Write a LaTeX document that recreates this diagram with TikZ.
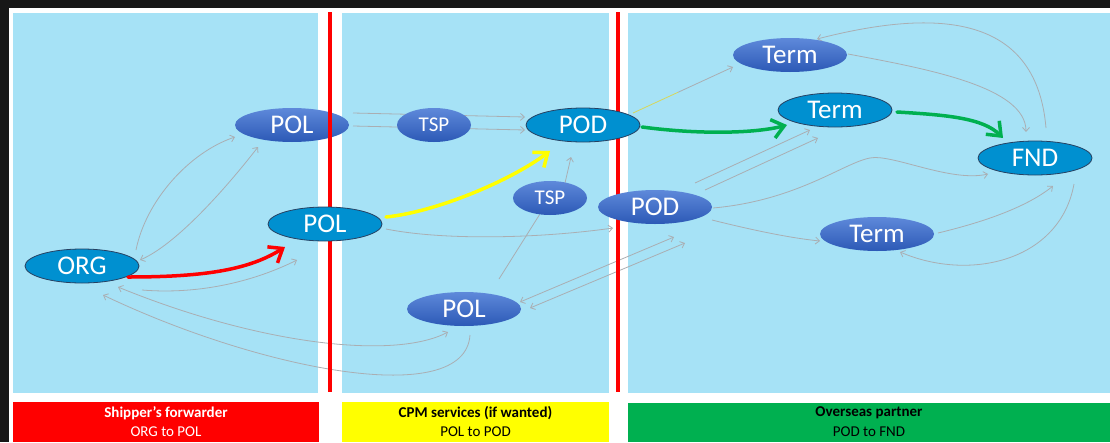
\documentclass[tikz,border=0pt]{standalone}
\usepackage{fontspec}
\setmainfont{Carlito}
\usetikzlibrary{shapes.geometric,arrows.meta,calc}
\definecolor{panel}{RGB}{166,226,246}
\definecolor{darkedge}{RGB}{23,23,23}
\definecolor{cyanfill}{RGB}{0,144,208}
\definecolor{cyanedge}{RGB}{38,64,97}
\definecolor{gtop}{RGB}{94,137,218}
\definecolor{gbot}{RGB}{44,89,182}
\definecolor{conn}{RGB}{170,174,178}
\definecolor{yconn}{RGB}{215,215,90}
\definecolor{barred}{RGB}{255,0,0}
\definecolor{baryellow}{RGB}{255,255,0}
\definecolor{bargreen}{RGB}{0,176,80}
\pgfdeclarelayer{back}
\pgfdeclarelayer{lines}
\pgfdeclarelayer{mid}
\pgfdeclarelayer{redl}
\pgfsetlayers{back,lines,mid,redl,main}
\begin{document}
\begin{tikzpicture}[x=1pt,y=-1pt,
  big/.style={ellipse, minimum width=114pt, minimum height=34pt, inner sep=0pt, text=white, font=\fontsize{27}{27}\selectfont},
  small/.style={ellipse, minimum width=74pt, minimum height=34pt, inner sep=0pt, text=white, font=\fontsize{21}{21}\selectfont},
  grad/.style={top color=gtop, bottom color=gbot},
  flat/.style={fill=cyanfill, draw=cyanedge, line width=0.8pt},
  gl/.style={draw=conn, line width=0.8pt, -{Straight Barb[length=4pt,width=7pt]}},
  gll/.style={draw=conn, line width=0.8pt, {Straight Barb[length=4pt,width=7pt]}-{Straight Barb[length=4pt,width=7pt]}},
  plainline/.style={draw=conn, line width=0.8pt},
  fat/.style={line width=3.5pt, line cap=round, -{Straight Barb[length=12pt,width=19pt]}},
  bartitle/.style={font=\bfseries\fontsize{15}{15}\selectfont},
  barsub/.style={font=\fontsize{15}{15}\selectfont}
]
\useasboundingbox (0,0) rectangle (1110,442);

% background and panels
\begin{pgfonlayer}{back}
\fill[white] (0,0) rectangle (1110,442);
\fill[darkedge] (0,0) rectangle (1110,8);
\fill[darkedge] (0,0) rectangle (9,442);
\fill[panel] (13,13) rectangle (318,393);
\fill[panel] (342,13) rectangle (609,393);
\fill[panel] (628,13) rectangle (1110,393);
\fill[barred] (13,402) rectangle (319,442);
\fill[baryellow] (342,402) rectangle (609,442);
\fill[bargreen] (628,403) rectangle (1110,442);
\end{pgfonlayer}

% bar texts
\node[bartitle, text=white] (t1a) at (166,413) {Shipper's forwarder};
\node[barsub, text=white] (t1b) at (166,432) {ORG to POL};
\node[bartitle, text=black] (t2a) at (475.5,413) {CPM services (if wanted)};
\node[barsub, text=black] (t2b) at (475.5,432) {POL to POD};
\node[bartitle, text=black] (t3a) at (869,413) {Overseas partner};
\node[barsub, text=black] (t3b) at (869,432) {POD to FND};

% nodes
\begin{pgfonlayer}{mid}
\node[big, grad] (pola) at (292,125) {POL};
\end{pgfonlayer}
\node[big, flat] (org) at (82,266) {ORG};
\node[big, flat] (polb) at (325,224) {POL};
\node[big, grad] (polc) at (464,309) {POL};
\node[small, grad] (tspa) at (434,125) {TSP};
\node[small, grad] (tspb) at (550,198) {TSP};
\node[big, flat] (poda) at (583,125) {POD};
\node[big, grad] (podb) at (655,207) {POD};
\node[big, grad] (terma) at (790,55) {Term};
\node[big, flat] (termb) at (835,110) {Term};
\node[big, flat] (fnd) at (1035,158) {FND};
\node[big, grad] (termc) at (877,234) {Term};

% red separators
\begin{pgfonlayer}{redl}
\fill[barred] (328.3,12) rectangle (331.7,392);
\fill[barred] (616.3,12) rectangle (619.7,392);
\end{pgfonlayer}

% helper coordinates for the POD -> Term link
\coordinate (ya) at ($(poda)+(50,-12)$);
\coordinate (yb) at ($(terma)+(-57,12)$);
\coordinate (ym) at ($(ya)!0.45!(yb)$);

% grey connectors
\begin{pgfonlayer}{lines}
\draw[gl] ($(org)+(54,-16)$) .. controls +(10,-50) and +(-45,15) .. ($(pola)+(-57,12)$);
\draw[gll] ($(pola)+(-34,22)$) .. controls +(-35,45) and +(35,-15) .. ($(org)+(58,-6)$);
\draw[gl] ($(org)+(60,24)$) .. controls +(60,5) and +(-40,20) .. ($(polb)+(-28,36)$);
\draw[gll] ($(org)+(36,21)$) .. controls +(142,58) and +(-53,28) .. ($(polc)+(-16,23)$);
\draw[gl] ($(polc)+(6,26)$) .. controls +(-5,75) and +(157,75) .. ($(org)+(21,29)$);
\draw[gl] ($(pola)+(61,-12)$) -- ($(poda)+(-58,-8)$);
\draw[gl] ($(pola)+(61,1)$) -- ($(poda)+(-58,5)$);
\draw[gl] ($(polb)+(61,5)$) .. controls +(60,12) and +(-70,10) .. ($(podb)+(-42,21)$);
\draw[gl] ($(tspb)+(15,-15)$) -- ($(poda)+(-12,32)$);
\draw[plainline] ($(polc)+(35,-30)$) -- (tspb);
\draw[gll] ($(polc)+(56,-7)$) -- ($(podb)+(19,30)$);
\draw[gll] ($(polc)+(66,-1)$) -- ($(podb)+(30,36)$);
\draw[draw=yconn, line width=0.8pt] (ya) -- (ym);
\draw[gl] (ym) -- (yb);
\draw[gl] ($(terma)+(58,-1)$) .. controls +(80,15) and +(0,-45) .. ($(fnd)+(-9,-26)$);
\draw[gl] ($(fnd)+(11,-30)$) .. controls +(-10,-118) and +(113,-29) .. ($(terma)+(27,-16)$);
\draw[gl] ($(podb)+(40,-24)$) -- ($(termb)+(-25,20)$);
\draw[gl] ($(podb)+(50,-17)$) -- ($(termb)+(-17,28)$);
\draw[gl] ($(podb)+(58,1)$) .. controls +(90,-8) and +(-25,0) .. ($(podb)!0.5!(fnd)+(30,-25)$)
      .. controls +(25,0) and +(-35,8) .. ($(fnd)+(-47,16)$);
\draw[gl] ($(podb)+(57,13)$) .. controls +(40,10) and +(-30,-3) .. ($(termc)+(-57,7)$);
\draw[gl] ($(termc)+(61,-1)$) .. controls +(50,-12) and +(-25,20) .. ($(fnd)+(18,28)$);
\draw[gl] ($(fnd)+(39,26)$) .. controls +(-14,77) and +(70,30) .. ($(termc)+(23,18)$);
\end{pgfonlayer}

% highlighted route
\draw[fat, draw=barred] ($(org)+(46,11)$) .. controls +(80,0) and +(-35,22) .. ($(polb)+(-40,23)$);
\draw[fat, draw=baryellow] ($(polb)+(61,-7)$) .. controls +(50,-5) and +(-40,30) .. ($(poda)+(-33,26)$);
\draw[fat, draw=bargreen] ($(poda)+(59,2)$) .. controls +(60,8) and +(-30,8) .. ($(termb)+(-48,15)$);
\draw[fat, draw=bargreen] ($(termb)+(62,2)$) .. controls +(50,3) and +(-20,-20) .. ($(fnd)+(-32,-20)$);
\end{tikzpicture}
\end{document}
